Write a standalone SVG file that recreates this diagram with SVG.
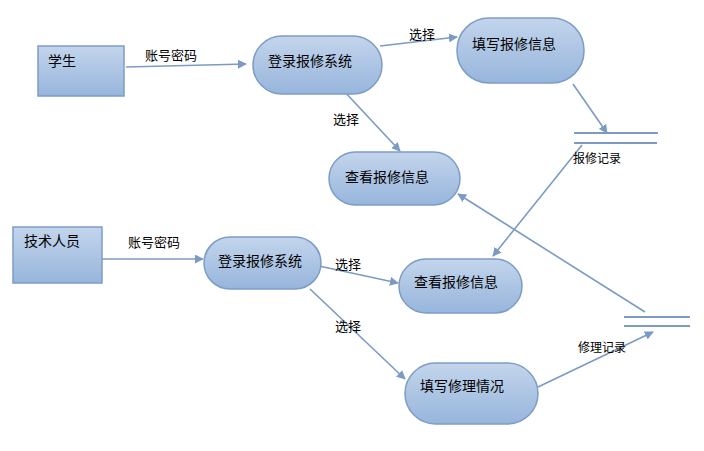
<svg xmlns="http://www.w3.org/2000/svg" width="704" height="451" viewBox="0 0 704 451">
<defs>
<linearGradient id="g" x1="0" y1="0" x2="0" y2="1">
<stop offset="0" stop-color="#c3d5ec"/>
<stop offset="1" stop-color="#97b5dc"/>
</linearGradient>
<marker id="ah" viewBox="0 0 10 10" refX="9" refY="5" markerWidth="9" markerHeight="9" markerUnits="userSpaceOnUse" orient="auto">
<path d="M0,0 L10,5 L0,10 z" fill="#7b9bc4"/>
</marker>
<style>
.n{fill:url(#g);stroke:#7d9cc6;stroke-width:1.5}
.e{fill:none;stroke:#7b9bc4;stroke-width:1.6;marker-end:url(#ah)}
.s{stroke:#7b9bc4;stroke-width:2}
.t{font-family:"Noto Sans CJK SC","Noto Sans",sans-serif;font-size:14px;fill:#000}
.l{font-family:"Noto Sans CJK SC","Noto Sans",sans-serif;font-size:13px;fill:#000}
.sl{font-family:"Noto Sans CJK SC","Noto Sans",sans-serif;font-size:12px;fill:#000}
</style>
</defs>
<rect width="704" height="451" fill="#fff"/>
<g id="connectors">
<line class="e" x1="126" y1="67" x2="246" y2="64"/>
<line class="e" x1="380" y1="46" x2="457" y2="37"/>
<line class="e" x1="573" y1="84" x2="607" y2="133"/>
<line class="e" x1="343" y1="90" x2="400" y2="151"/>
<line class="e" x1="582" y1="145" x2="493" y2="256"/>
<line class="e" x1="645" y1="312" x2="458" y2="194"/>
<line class="e" x1="102" y1="259" x2="203" y2="259"/>
<line class="e" x1="319" y1="266" x2="398" y2="283"/>
<line class="e" x1="310" y1="289" x2="405" y2="379"/>
<line class="e" x1="538" y1="387" x2="653" y2="332"/>
<text class="l" x="145" y="60">账号密码</text>
<text class="l" x="409" y="39">选择</text>
<text class="l" x="333" y="124">选择</text>
<text class="l" x="128" y="247">账号密码</text>
<text class="l" x="335" y="269">选择</text>
<text class="l" x="335" y="331">选择</text>
</g>
<g id="student">
<rect class="n" x="38" y="46" width="86" height="50" rx="0"/>
<text class="t" x="48" y="66">学生</text>
</g>
<g id="login1">
<rect class="n" x="253" y="36" width="129" height="58" rx="29"/>
<text class="t" x="268" y="66">登录报修系统</text>
</g>
<g id="fill1">
<rect class="n" x="457" y="18" width="127" height="65" rx="32"/>
<text class="t" x="472" y="49">填写报修信息</text>
</g>
<g id="view1">
<rect class="n" x="329" y="152" width="131" height="53" rx="26.5"/>
<text class="t" x="345" y="182">查看报修信息</text>
</g>
<g id="store1">
<line class="s" x1="574" y1="133" x2="658" y2="133"/>
<line class="s" x1="574" y1="143" x2="657" y2="143"/>
<text class="sl" x="573" y="163">报修记录</text>
</g>
<g id="tech">
<rect class="n" x="13" y="227" width="89" height="56" rx="0"/>
<text class="t" x="24" y="246">技术人员</text>
</g>
<g id="login2">
<rect class="n" x="204" y="237" width="117" height="52" rx="26"/>
<text class="t" x="218" y="266">登录报修系统</text>
</g>
<g id="view2">
<rect class="n" x="399" y="259" width="123" height="54" rx="27"/>
<text class="t" x="414" y="287">查看报修信息</text>
</g>
<g id="fill2">
<rect class="n" x="405" y="363" width="133" height="61" rx="30.5"/>
<text class="t" x="420" y="391">填写修理情况</text>
</g>
<g id="store2">
<line class="s" x1="624" y1="317" x2="690" y2="317"/>
<line class="s" x1="624" y1="326" x2="690" y2="326"/>
<text class="sl" x="578" y="352">修理记录</text>
</g>
</svg>
